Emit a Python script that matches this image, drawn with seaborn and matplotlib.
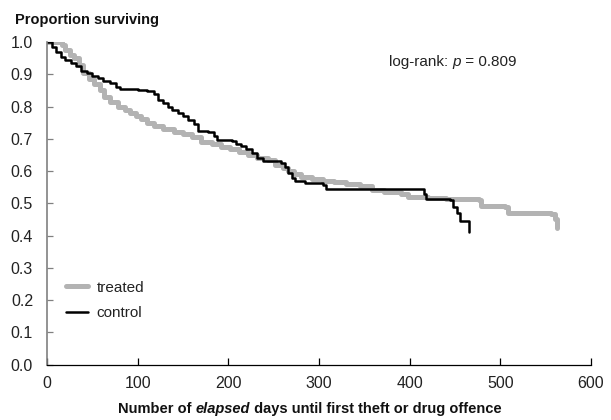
import numpy as np
import pandas as pd
import matplotlib
matplotlib.use("Agg")
import matplotlib.pyplot as plt
import seaborn as sns

sns.set_theme(style="white")
plt.rcParams['font.family'] = ['Liberation Sans Narrow', 'Liberation Sans', 'DejaVu Sans']

# Kaplan-Meier curves (days, proportion surviving)
treated_days = [0, 16, 20, 25, 30, 35, 40, 46, 52, 58, 63, 70, 78, 86, 92, 98, 104, 110,
                118, 128, 140, 150, 160, 170, 182, 192, 202, 212, 222, 232, 244, 252,
                260, 266, 272, 280, 292, 304, 316, 330, 345, 358, 372, 390, 398, 420,
                440, 476, 479, 505, 508, 556, 560, 562]
treated_surv = [1.0, 0.99, 0.975, 0.96, 0.95, 0.93, 0.905, 0.885, 0.87, 0.85, 0.83, 0.815,
                0.80, 0.79, 0.78, 0.77, 0.76, 0.75, 0.74, 0.73, 0.722, 0.714, 0.705, 0.69,
                0.684, 0.676, 0.668, 0.66, 0.65, 0.642, 0.633, 0.62, 0.61, 0.60, 0.59,
                0.582, 0.576, 0.57, 0.566, 0.56, 0.553, 0.54, 0.535, 0.53, 0.52, 0.516,
                0.514, 0.51, 0.492, 0.488, 0.47, 0.468, 0.45, 0.425]

control_days = [0, 5, 10, 15, 20, 26, 32, 38, 44, 50, 56, 62, 70, 76, 80, 100, 110, 118,
                122, 128, 134, 138, 144, 150, 156, 162, 166, 178, 184, 188, 204, 208,
                214, 220, 226, 232, 238, 258, 262, 266, 270, 274, 285, 304, 308, 412,
                416, 418, 444, 448, 452, 455, 465]
control_surv = [1.0, 0.985, 0.97, 0.955, 0.945, 0.935, 0.925, 0.91, 0.905, 0.895, 0.887,
                0.88, 0.872, 0.86, 0.853, 0.852, 0.848, 0.84, 0.82, 0.81, 0.80, 0.79,
                0.78, 0.77, 0.757, 0.745, 0.725, 0.72, 0.71, 0.697, 0.692, 0.684, 0.678,
                0.668, 0.655, 0.64, 0.63, 0.625, 0.612, 0.595, 0.578, 0.568, 0.562,
                0.557, 0.545, 0.545, 0.53, 0.515, 0.51, 0.49, 0.47, 0.445, 0.41]

treated = pd.DataFrame({"days": treated_days, "surv": treated_surv})
control = pd.DataFrame({"days": control_days, "surv": control_surv})

fig = plt.figure(figsize=(6.11, 4.2), dpi=100)
ax = fig.add_axes([47 / 611, 1 - 364.7 / 420, 544 / 611, 322.7 / 420])

sns.lineplot(data=treated, x="days", y="surv", ax=ax, color="#b3b3b3", linewidth=3.6,
             drawstyle="steps-post", estimator=None, sort=False, label="treated")
sns.lineplot(data=control, x="days", y="surv", ax=ax, color="black", linewidth=1.8,
             drawstyle="steps-post", estimator=None, sort=False, label="control")

ax.set_xlim(0, 600)
ax.set_ylim(0, 1.0)
ax.set_xticks(np.arange(0, 601, 100))
ax.set_yticks(np.arange(0, 1.01, 0.1))
ax.set_yticklabels([f"{v:.1f}" for v in np.arange(0, 1.01, 0.1)])
ax.set_xlabel("")
ax.set_ylabel("")

for s in ["top", "right"]:
    ax.spines[s].set_visible(False)
ax.spines["left"].set_color("#808080")
ax.spines["left"].set_linewidth(1.2)
ax.spines["bottom"].set_color("black")
ax.spines["bottom"].set_linewidth(0.9)
ax.tick_params(axis="y", direction="in", length=4, width=0.9, color="#808080",
               labelsize=11.5, pad=10, left=True, labelcolor="#222222")
ax.tick_params(axis="x", direction="in", length=5, width=0.9, color="black",
               labelsize=11.5, pad=8, bottom=True, labelcolor="#222222")

leg = ax.legend(loc="lower left", bbox_to_anchor=(0.01, 0.095), frameon=False,
                fontsize=11, handlelength=1.4, handletextpad=0.6, labelspacing=0.75)
for t in leg.get_texts():
    t.set_color("#222222")

# title
fig.text(15 / 611, 1 - 24 / 420, "Proportion surviving", fontsize=10.5, fontweight="bold",
         va="baseline", ha="left", color="#111111")

# log-rank annotation with italic p
t1 = fig.text(389 / 611, 1 - 66 / 420, "log-rank: ", fontsize=11, va="baseline",
              ha="left", color="#222222")
t2 = ax.annotate("p", xy=(1, 0), xycoords=t1, va="bottom", ha="left", fontsize=11,
                 style="italic", color="#222222")
ax.annotate(" = 0.809", xy=(1, 0), xycoords=t2, va="bottom", ha="left", fontsize=11,
            color="#222222")

# x label with italic "elapsed"
x1 = fig.text(118 / 611, 1 - 413 / 420, "Number of ", fontsize=10.5, fontweight="bold",
              va="baseline", ha="left", color="#111111")
x2 = ax.annotate("elapsed", xy=(1, 0), xycoords=x1, va="bottom", ha="left",
                 fontsize=10.5, fontweight="bold", style="italic", color="#111111")
ax.annotate(" days until first theft or drug offence", xy=(1, 0), xycoords=x2,
            va="bottom", ha="left", fontsize=10.5, fontweight="bold", color="#111111")

fig.savefig("out.png", dpi=100)
